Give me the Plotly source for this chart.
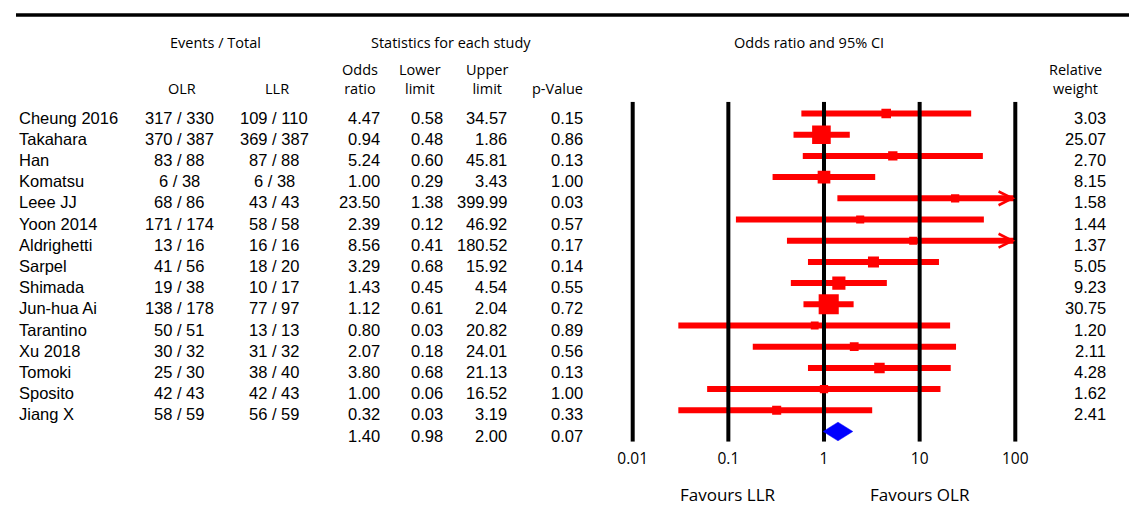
import math
import plotly.graph_objects as go

# ---------------- data ----------------
studies = ["Cheung 2016", "Takahara", "Han", "Komatsu", "Leee JJ", "Yoon 2014",
           "Aldrighetti", "Sarpel", "Shimada", "Jun-hua Ai", "Tarantino",
           "Xu 2018", "Tomoki", "Sposito", "Jiang X"]
olr_events = ["317 / 330", "370 / 387", "83 / 88", "6 / 38", "68 / 86", "171 / 174",
              "13 / 16", "41 / 56", "19 / 38", "138 / 178", "50 / 51", "30 / 32",
              "25 / 30", "42 / 43", "58 / 59"]
llr_events = ["109 / 110", "369 / 387", "87 / 88", "6 / 38", "43 / 43", "58 / 58",
              "16 / 16", "18 / 20", "10 / 17", "77 / 97", "13 / 13", "31 / 32",
              "38 / 40", "42 / 43", "56 / 59"]
odds_ratio = [4.47, 0.94, 5.24, 1.00, 23.50, 2.39, 8.56, 3.29, 1.43, 1.12, 0.80, 2.07, 3.80, 1.00, 0.32]
lower_limit = [0.58, 0.48, 0.60, 0.29, 1.38, 0.12, 0.41, 0.68, 0.45, 0.61, 0.03, 0.18, 0.68, 0.06, 0.03]
upper_limit = [34.57, 1.86, 45.81, 3.43, 399.99, 46.92, 180.52, 15.92, 4.54, 2.04, 20.82, 24.01, 21.13, 16.52, 3.19]
p_value = [0.15, 0.86, 0.13, 1.00, 0.03, 0.57, 0.17, 0.14, 0.55, 0.72, 0.89, 0.56, 0.13, 1.00, 0.33]
rel_weight = [3.03, 25.07, 2.70, 8.15, 1.58, 1.44, 1.37, 5.05, 9.23, 30.75, 1.20, 2.11, 4.28, 1.62, 2.41]
summary_or = 1.40
summary_lower = 0.98
summary_upper = 2.00
summary_p = 0.07
axis_ticks = [0.01, 0.1, 1, 10, 100]
axis_ticktext = ["0.01", "0.1", "1", "10", "100"]

# ---------------- layout constants ----------------
W, H = 1129, 519
RED = "#FF0000"
BLUE = "#0000FF"
TABLE_FONT = "Liberation Sans, Arial, sans-serif"
HEAD_FONT = "Open Sans, Noto Sans, sans-serif"

n = len(studies)
rows = [-i for i in range(n)]
summary_row = -n
y_range = [-15.481, 0.557]
y_domain = [1 - 441.7 / H, 1 - 101.7 / H]
x_range = [-2.15, 2.15]
x_domain = [618.35 / W, 1029.65 / W]
cap = axis_ticks[-1]

fig = go.Figure()

# CI lines
ci_x, ci_y = [], []
for lo, up, r in zip(lower_limit, upper_limit, rows):
    ci_x += [lo, min(up, cap), None]
    ci_y += [r, r, None]
fig.add_trace(go.Scatter(x=ci_x, y=ci_y, mode="lines",
                         line=dict(color=RED, width=6), hoverinfo="skip"))

# vertical reference lines at tick values
vx, vy = [], []
for t in axis_ticks:
    vx += [t, t, None]
    vy += [y_range[1], y_range[0], None]
fig.add_trace(go.Scatter(x=vx, y=vy, mode="lines",
                         line=dict(color="black", width=4), hoverinfo="skip"))

# study squares
sizes = [2.76 * math.sqrt(w) + 4.8 for w in rel_weight]
fig.add_trace(go.Scatter(x=odds_ratio, y=rows, mode="markers",
                         marker=dict(symbol="square", size=sizes, color=RED,
                                     opacity=1, line=dict(width=0)),
                         hoverinfo="skip"))

# summary diamond
h = 0.44
fig.add_trace(go.Scatter(
    x=[summary_lower, summary_or, summary_upper, summary_or, summary_lower],
    y=[summary_row, summary_row + h, summary_row, summary_row - h, summary_row],
    mode="lines", fill="toself", fillcolor=BLUE, line=dict(color=BLUE, width=0.5),
    hoverinfo="skip"))

annotations = []

# arrows for truncated CIs
for up, r in zip(upper_limit, rows):
    if up > cap:
        annotations.append(dict(
            x=math.log10(cap), y=r, ax=math.log10(cap) - 0.3, ay=r,
            xref="x", yref="y", axref="x", ayref="y", text="",
            showarrow=True, arrowhead=5, arrowsize=1.35, arrowwidth=2,
            arrowcolor=RED, standoff=0))


def txt(xpx, y, text, anchor, yref="y", font=TABLE_FONT, size=16.5, yshift=-4):
    annotations.append(dict(
        x=xpx / W, xref="paper", y=y, yref=yref, text=text, showarrow=False,
        xanchor=anchor, yanchor="middle", yshift=yshift,
        font=dict(family=font, size=size, color="black")))


# table rows
for i in range(n):
    r = rows[i]
    txt(17, r, studies[i], "left")
    txt(179, r, olr_events[i], "center")
    txt(274, r, llr_events[i], "center")
    txt(382, r, f"{odds_ratio[i]:.2f}", "right")
    txt(445, r, f"{lower_limit[i]:.2f}", "right")
    txt(509, r, f"{upper_limit[i]:.2f}", "right")
    txt(585, r, f"{p_value[i]:.2f}", "right")
    txt(1108, r, f"{rel_weight[i]:.2f}", "right")

# summary row
txt(382, summary_row, f"{summary_or:.2f}", "right")
txt(445, summary_row, f"{summary_lower:.2f}", "right")
txt(509, summary_row, f"{summary_upper:.2f}", "right")
txt(585, summary_row, f"{summary_p:.2f}", "right")


def head(xpx, ypx, text, size=14.5):
    annotations.append(dict(
        x=xpx / W, xref="paper", y=1 - ypx / H, yref="paper", text=text,
        showarrow=False, xanchor="center", yanchor="middle", align="center",
        font=dict(family=HEAD_FONT, size=size, color="black")))


head(215, 43, "Events / Total")
head(451, 43, "Statistics for each study")
head(809, 43, "Odds ratio and 95% CI")
head(182, 88, "OLR")
head(277, 88, "LLR")
head(360, 79, "Odds<br>ratio")
head(420, 79, "Lower<br>limit")
head(487, 79, "Upper<br>limit")
head(557, 88, "p-Value")
head(1075, 79, "Relative<br>weight")

# favours labels
for t, label in [(axis_ticks[1], "Favours LLR"), (axis_ticks[3], "Favours OLR")]:
    annotations.append(dict(
        x=math.log10(t), xref="x", y=1 - 494.3 / H, yref="paper", text=label,
        showarrow=False, xanchor="center", yanchor="middle",
        font=dict(family=HEAD_FONT, size=17, color="black")))

fig.update_layout(
    width=W, height=H, autosize=False,
    margin=dict(l=0, r=0, t=0, b=0, pad=0),
    paper_bgcolor="white", plot_bgcolor="rgba(0,0,0,0)",
    showlegend=False,
    annotations=annotations,
    shapes=[dict(type="line", xref="paper", yref="paper",
                 x0=16 / W, x1=1, y0=1 - 15 / H, y1=1 - 15 / H,
                 line=dict(color="black", width=3.5))],
    xaxis=dict(type="log", range=x_range, domain=x_domain,
               tickvals=axis_ticks, ticktext=axis_ticktext, ticks="",
               showgrid=False, zeroline=False, showline=False,
               ticklabelstandoff=6,
               tickfont=dict(family=HEAD_FONT, size=15.5, color="black"),
               fixedrange=True),
    yaxis=dict(range=y_range, domain=y_domain, visible=False, fixedrange=True),
)

fig.write_html("out.html")
